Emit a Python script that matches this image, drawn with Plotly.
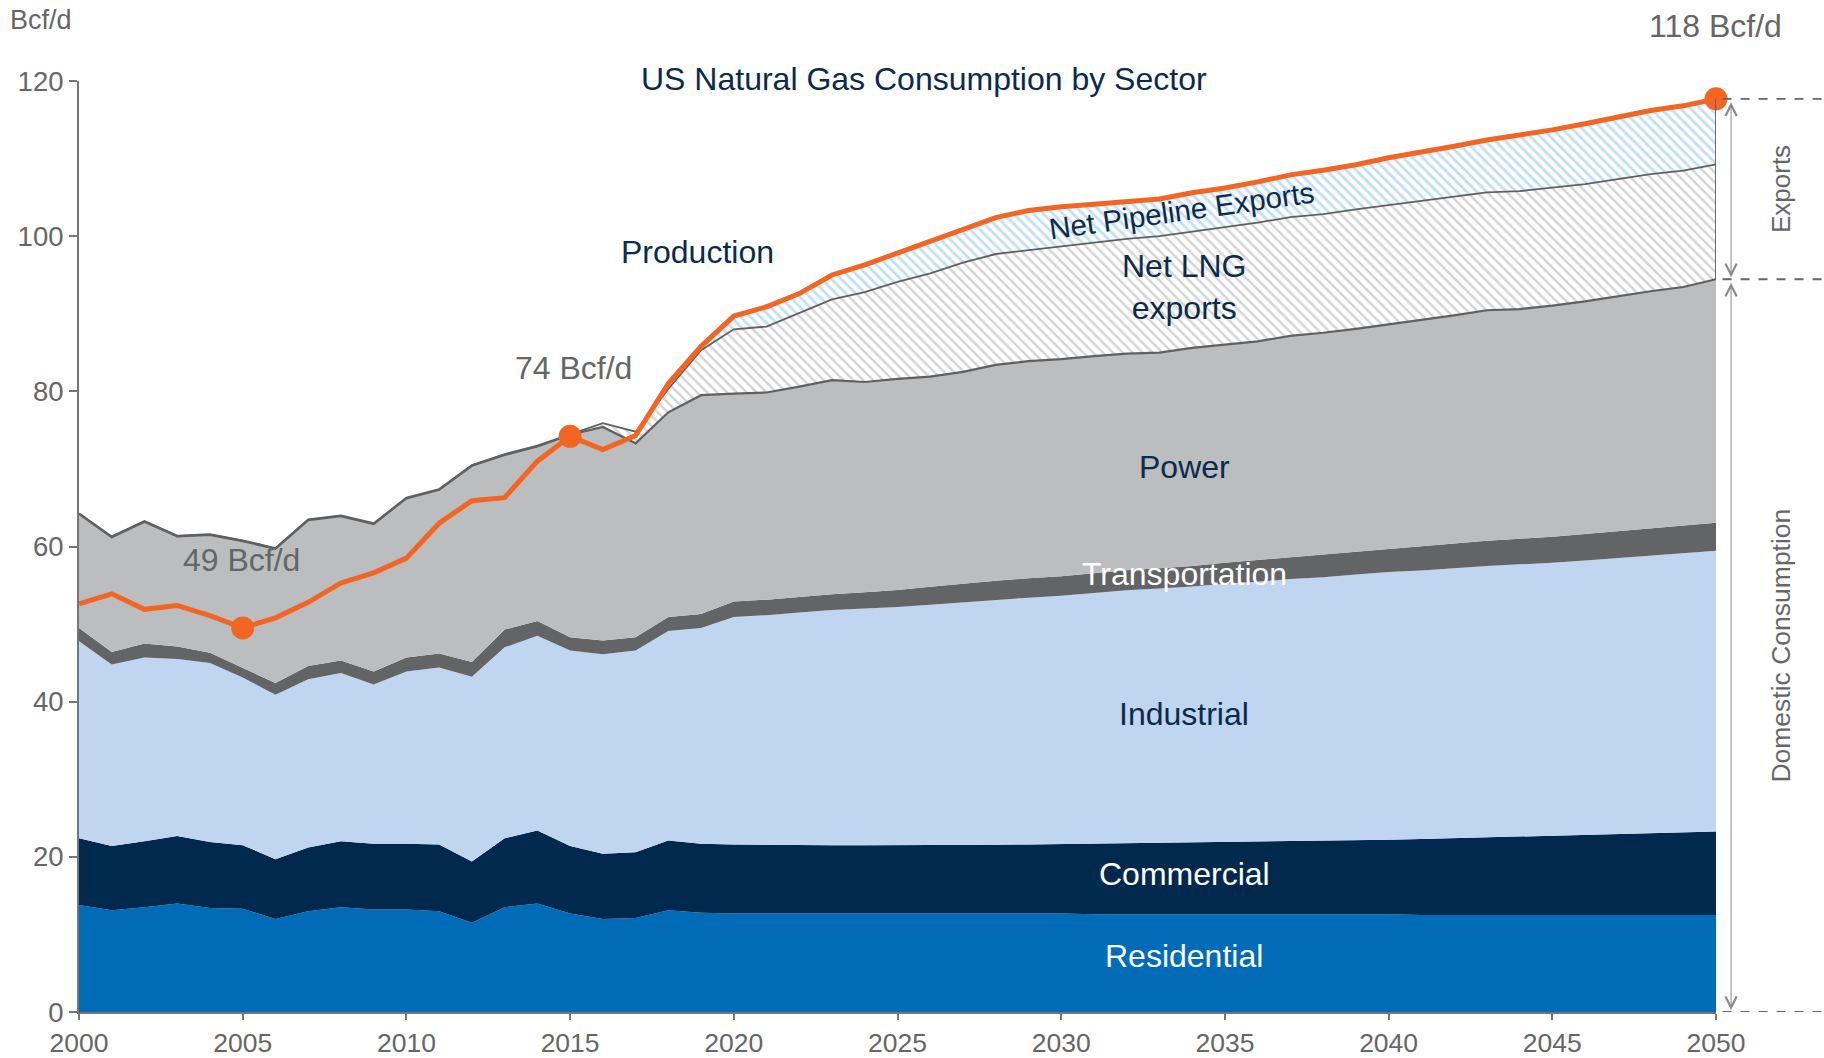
import plotly.graph_objects as go

years = list(range(2000, 2051))

residential = [13.8, 13.1, 13.5, 14.0, 13.4, 13.3, 12.0, 13.0, 13.5, 13.2,
               13.2, 13.0, 11.5, 13.5, 14.0, 12.7, 12.0, 12.1, 13.1, 12.8,
               12.7, 12.7, 12.7, 12.7, 12.7, 12.7, 12.7, 12.7, 12.7, 12.7,
               12.7, 12.6, 12.6, 12.6, 12.6, 12.6, 12.6, 12.6, 12.6, 12.6,
               12.6, 12.5, 12.5, 12.5, 12.5, 12.5, 12.5, 12.5, 12.5, 12.5, 12.5]

commercial = [8.6, 8.3, 8.5, 8.7, 8.5, 8.2, 7.7, 8.2, 8.5, 8.5,
              8.5, 8.6, 7.9, 8.9, 9.4, 8.7, 8.4, 8.5, 9.0, 8.9,
              8.9, 8.85, 8.8, 8.8, 8.8, 8.8, 8.8, 8.8, 8.85, 8.9,
              8.95, 9.1, 9.15, 9.2, 9.25, 9.3, 9.35, 9.4, 9.45, 9.5,
              9.6, 9.8, 9.9, 10.0, 10.1, 10.2, 10.3, 10.4, 10.5, 10.6, 10.75]

industrial = [25.4, 23.4, 23.7, 22.8, 23.1, 21.6, 21.2, 21.7, 21.7, 20.5,
              22.2, 22.8, 23.8, 24.6, 25.1, 25.2, 25.7, 26.0, 27.0, 27.8,
              29.3, 29.6, 30.0, 30.3, 30.5, 30.7, 31.0, 31.3, 31.6, 31.8,
              32.0, 32.3, 32.6, 32.8, 33.0, 33.3, 33.5, 33.8, 34.0, 34.3,
              34.5, 34.6, 34.8, 35.0, 35.1, 35.2, 35.4, 35.6, 35.8, 36.0, 36.2]

transportation = [1.7, 1.6, 1.8, 1.6, 1.3, 1.3, 1.5, 1.7, 1.6, 1.7,
                  1.8, 1.8, 1.9, 2.3, 1.9, 1.7, 1.8, 1.7, 1.8, 1.8,
                  2.0, 2.0, 2.0, 2.05, 2.1, 2.2, 2.3, 2.4, 2.45, 2.5,
                  2.5, 2.55, 2.6, 2.6, 2.65, 2.7, 2.8, 2.85, 2.9, 2.95,
                  3.0, 3.1, 3.2, 3.25, 3.3, 3.35, 3.4, 3.45, 3.5, 3.55, 3.6]

power = [14.7, 14.8, 15.7, 14.2, 15.2, 16.3, 17.3, 18.8, 18.6, 19.0,
         20.5, 21.1, 25.3, 22.5, 22.5, 26.1, 27.5, 25.0, 26.4, 28.2,
         26.8, 26.7, 27.1, 27.6, 27.1, 27.2, 27.1, 27.3, 27.8, 28.0,
         28.0, 28.0, 27.9, 27.8, 28.1, 28.1, 28.2, 28.5, 28.6, 28.7,
         28.9, 29.2, 29.4, 29.7, 29.6, 29.8, 30.0, 30.3, 30.6, 30.8, 31.4]

lng_exports = [0.1, 0.1, 0.1, 0.1, 0.1, 0.1, 0.1, 0.1, 0.1, 0.1,
               0.1, 0.1, 0.1, 0.1, 0.1, 0.1, 0.5, 1.5, 3.0, 5.8,
               8.3, 8.5, 9.5, 10.4, 11.6, 12.5, 13.3, 14.1, 14.3, 14.3,
               14.5, 14.6, 14.8, 15.0, 15.0, 15.2, 15.3, 15.3, 15.3, 15.4,
               15.4, 15.3, 15.3, 15.2, 15.2, 15.2, 15.1, 15.1, 15.1, 15.0, 14.8]

production = [52.6, 53.9, 51.9, 52.4, 51.1, 49.5, 50.8, 52.8, 55.3, 56.6,
              58.5, 63.0, 65.9, 66.3, 71.0, 74.2, 72.5, 74.3, 81.0, 85.8,
              89.7, 90.9, 92.6, 95.0, 96.3, 97.8, 99.3, 100.9, 102.4, 103.3,
              103.8, 104.1, 104.4, 104.8, 105.6, 106.2, 107.0, 107.9, 108.5, 109.2,
              110.1, 110.8, 111.6, 112.4, 113.0, 113.7, 114.5, 115.3, 116.2, 116.8, 117.7]

highlight_years = [2005, 2015, 2050]

# derived stacks
domestic_total = [r + c + i + t + p for r, c, i, t, p in
                  zip(residential, commercial, industrial, transportation, power)]
with_lng = [d + l for d, l in zip(domestic_total, lng_exports)]
pipeline_exports = [max(pr - w, 0) for pr, w in zip(production, with_lng)]

FONT = "Liberation Sans, Arial, sans-serif"
NAVY = "#0b2a4d"
GREY_TXT = "#666666"
ORANGE = "#f26522"

fig = go.Figure()

def area(name, vals, color, line_w=0, line_c=None, pattern=None):
    kw = dict(x=years, y=vals, name=name, stackgroup="one", mode="lines",
              line=dict(width=line_w, color=line_c or color),
              hoverinfo="skip")
    if pattern:
        kw["fillpattern"] = pattern
        kw["fillcolor"] = "white"
    else:
        kw["fillcolor"] = color
    fig.add_trace(go.Scatter(**kw))

area("Residential", residential, "#006bb6")
area("Commercial", commercial, "#00294d")
area("Industrial", industrial, "#c0d5ef")
area("Transportation", transportation, "#636466")
area("Power", power, "#bcbdbf", line_w=2.2, line_c="#606060")
area("Net LNG exports", lng_exports, "#ffffff", line_w=1.8, line_c="#606060",
     pattern=dict(shape="\\", fgcolor="#a9a9a9", bgcolor="white", size=7, solidity=0.35))
area("Net Pipeline Exports", pipeline_exports, "#ffffff", line_w=0, line_c="#606060",
     pattern=dict(shape="\\", fgcolor="#84bfe9", bgcolor="white", size=7, solidity=0.4))

fig.add_trace(go.Scatter(x=years, y=production, mode="lines",
                         line=dict(color=ORANGE, width=5), hoverinfo="skip",
                         cliponaxis=False))
hl_vals = [production[years.index(y)] for y in highlight_years]
fig.add_trace(go.Scatter(x=highlight_years, y=hl_vals, mode="markers",
                         marker=dict(color=ORANGE, size=23), hoverinfo="skip",
                         cliponaxis=False))

# right edge of the export block
fig.add_shape(type="line", xref="x", yref="y", x0=years[-1], x1=years[-1],
              y0=domestic_total[-1], y1=production[-1],
              line=dict(color="#606060", width=1.8))

# dashed guide lines on the right
for yv in [production[-1], domestic_total[-1], 0]:
    fig.add_shape(type="line", xref="paper", yref="y", x0=1.004, x1=1.066,
                  y0=yv, y1=yv, line=dict(color="#666666", width=1.8, dash="dash"))

annotations = []

def txt(x, y, s, size=32, color=NAVY, angle=0, xref="x", yref="y"):
    annotations.append(dict(x=x, y=y, xref=xref, yref=yref, text=s, showarrow=False,
                            xanchor="center", yanchor="middle",
                            textangle=angle, font=dict(family=FONT, size=size, color=color)))

txt(0.5162, 1.0025, "US Natural Gas Consumption by Sector", size=32, xref="paper", yref="paper")
txt(-0.0232, 1.0655, "Bcf/d", size=27, color=GREY_TXT, xref="paper", yref="paper")
txt(0.9994, 1.0595, "118 Bcf/d", size=32, color=GREY_TXT, xref="paper", yref="paper")
txt(2015.1, 83.0, "74 Bcf/d", size=32, color=GREY_TXT)
txt(2004.95, 58.2, "49 Bcf/d", size=32, color=GREY_TXT)
txt(2018.9, 98.0, "Production", size=32)
txt(2033.66, 103.3, "Net Pipeline Exports", size=29.5, angle=-8)
txt(2033.76, 93.4, "Net LNG<br>exports", size=32)
txt(2033.76, 70.2, "Power", size=32)
txt(2033.76, 56.5, "Transportation", size=32, color="white")
txt(2033.76, 38.4, "Industrial", size=32)
txt(2033.76, 17.85, "Commercial", size=32, color="white")
txt(2033.76, 7.2, "Residential", size=32, color="white")
txt(1.0397, (production[-1] + domestic_total[-1]) / 2, "Exports", size=26,
    color=GREY_TXT, angle=-90, xref="paper")
txt(1.0397, domestic_total[-1] / 2, "Domestic Consumption", size=26.5,
    color=GREY_TXT, angle=-90, xref="paper")

# double-headed arrows
for y_top, y_bot in [(production[-1], domestic_total[-1]), (domestic_total[-1], 0)]:
    annotations.append(dict(x=1.0092, y=y_bot, xref="paper", yref="y",
                            ax=0, ay=y_top, axref="pixel", ayref="y",
                            text="", showarrow=True, arrowhead=5, startarrowhead=5,
                            arrowside="end+start", arrowsize=2.2, startarrowsize=2.2,
                            arrowwidth=1, arrowcolor="#8a8a8a", standoff=2, startstandoff=2))

fig.update_layout(
    width=1824, height=1058,
    margin=dict(l=79, r=108, t=81, b=46, autoexpand=False),
    paper_bgcolor="white", plot_bgcolor="white",
    showlegend=False,
    annotations=annotations,
    font=dict(family=FONT, color=GREY_TXT),
    xaxis=dict(range=[2000, 2050], tickmode="linear", tick0=2000, dtick=5,
               automargin=False,
               showgrid=False, zeroline=False, showline=True, linecolor="#767676",
               linewidth=2, ticks="outside", ticklen=6, tickcolor="#767676", tickwidth=2,
               tickfont=dict(family=FONT, size=26.5, color=GREY_TXT)),
    yaxis=dict(range=[0, 120], tickmode="linear", tick0=0, dtick=20,
               automargin=False,
               showgrid=False, zeroline=False, showline=True, linecolor="#767676",
               linewidth=2, ticks="outside", ticklen=8, tickcolor="#767676", tickwidth=2,
               tickfont=dict(family=FONT, size=27.5, color=GREY_TXT)),
)

fig.write_html("out.html", config={"displayModeBar": False},
               post_script="document.body.style.margin='0';document.body.style.overflow='hidden';")
